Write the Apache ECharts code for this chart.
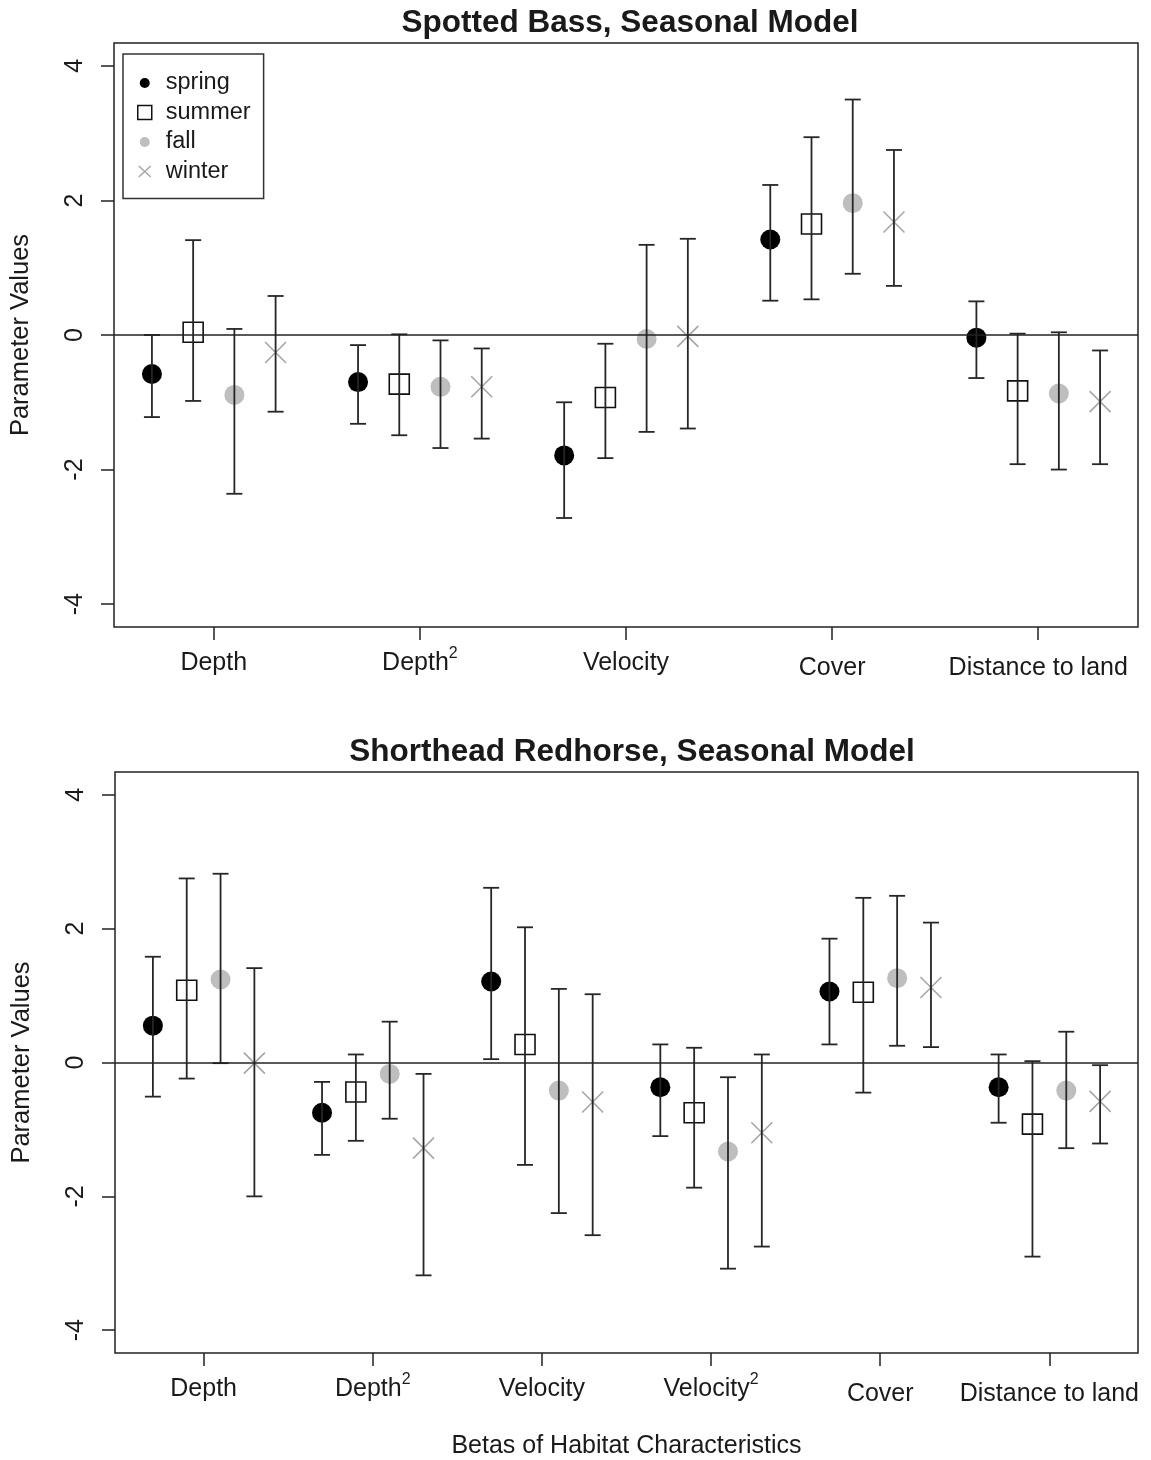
<!DOCTYPE html>
<html>
<head>
<meta charset="utf-8">
<title>Seasonal habitat models</title>
<script src="https://cdn.jsdelivr.net/npm/echarts@6/dist/echarts.min.js"></script>
<style>
  html, body { margin: 0; padding: 0; background: #fff; }
  #chart { width: 1151px; height: 1460px; }
</style>
</head>
<body>
<div id="chart"></div>
<script>
// Seasons, drawn side by side within each habitat characteristic
const seasons = ['spring', 'summer', 'fall', 'winter'];
const seasonOffsets = [-0.3, -0.1, 0.1, 0.3];

// Spotted Bass: covariate names ("^2" marks a superscript)
const bassCats = ['Depth', 'Depth^2', 'Velocity', 'Cover', 'Distance to land'];
// rows: spring, summer, fall, winter
const bassEst = [
  [-0.58, -0.70, -1.79, 1.42, -0.04],
  [ 0.04, -0.73, -0.93, 1.65, -0.83],
  [-0.89, -0.77, -0.06, 1.96, -0.87],
  [-0.26, -0.77, -0.02, 1.68, -0.99]
];
const bassLo = [
  [-1.22, -1.32, -2.72, 0.51, -0.64],
  [-0.98, -1.49, -1.83, 0.53, -1.92],
  [-2.36, -1.68, -1.44, 0.91, -2.00],
  [-1.14, -1.54, -1.39, 0.73, -1.92]
];
const bassHi = [
  [ 0.00, -0.15, -1.00, 2.23,  0.50],
  [ 1.41,  0.01, -0.13, 2.94,  0.02],
  [ 0.09, -0.08,  1.34, 3.50,  0.04],
  [ 0.58, -0.20,  1.43, 2.75, -0.23]
];

// Shorthead Redhorse
const redCats = ['Depth', 'Depth^2', 'Velocity', 'Velocity^2', 'Cover', 'Distance to land'];
const redEst = [
  [ 0.55, -0.75,  1.21, -0.37, 1.06, -0.37],
  [ 1.08, -0.44,  0.27, -0.75, 1.05, -0.92],
  [ 1.24, -0.17, -0.42, -1.33, 1.26, -0.42],
  [-0.01, -1.28, -0.59, -1.05, 1.12, -0.58]
];
const redLo = [
  [-0.51, -1.38,  0.05, -1.10,  0.27, -0.90],
  [-0.24, -1.17, -1.53, -1.87, -0.45, -2.90],
  [-0.01, -0.84, -2.25, -3.08,  0.25, -1.28],
  [-2.00, -3.18, -2.58, -2.75,  0.23, -1.21]
];
const redHi = [
  [ 1.58, -0.29,  2.61,  0.27, 1.85,  0.12],
  [ 2.75,  0.12,  2.02,  0.22, 2.46,  0.02],
  [ 2.82,  0.61,  1.10, -0.22, 2.49,  0.46],
  [ 1.41, -0.17,  1.02,  0.12, 2.09, -0.04]
];

const yTicks = [-4, -2, 0, 2, 4];
const titles = ['Spotted Bass, Seasonal Model', 'Shorthead Redhorse, Seasonal Model'];
const yName = 'Parameter Values';
const xName = 'Betas of Habitat Characteristics';

const FONT = '"Liberation Sans", Arial, Helvetica, sans-serif';
const INK = '#1a1a1a';
const BAR = '#262626';

// marker styles per season
const markerStyles = [
  { symbol: 'circle', symbolSize: 20, itemStyle: { color: '#000', opacity: 1 } },
  { symbol: 'rect', symbolSize: 20, itemStyle: { color: 'rgba(0,0,0,0)', borderColor: '#111', borderWidth: 1.6, opacity: 1 } },
  { symbol: 'circle', symbolSize: 20, itemStyle: { color: '#bebebe', opacity: 1 } },
  { symbol: 'path://M0 0L10 10M10 0L0 10', symbolSize: 21,
    itemStyle: { color: 'rgba(0,0,0,0)', borderColor: '#a6a6a6', borderWidth: 1.6, opacity: 1 } }
];

// vertical interval with end caps
function renderInterval(params, api) {
  const x = api.value(0);
  const top = api.coord([x, api.value(3)]);
  const bot = api.coord([x, api.value(2)]);
  const cap = 8;
  const style = { stroke: BAR, lineWidth: 1.8, fill: null };
  return {
    type: 'group',
    children: [
      { type: 'line', shape: { x1: top[0], y1: top[1], x2: bot[0], y2: bot[1] }, style: style },
      { type: 'line', shape: { x1: top[0] - cap, y1: top[1], x2: top[0] + cap, y2: top[1] }, style: style },
      { type: 'line', shape: { x1: bot[0] - cap, y1: bot[1], x2: bot[0] + cap, y2: bot[1] }, style: style }
    ]
  };
}

function panelSeries(axisIdx, est, lo, hi) {
  const out = [];
  seasons.forEach(function (season, s) {
    const rows = est[s].map(function (v, i) {
      return [i + 1 + seasonOffsets[s], v, lo[s][i], hi[s][i]];
    });
    const marker = {
      name: season,
      type: 'scatter',
      xAxisIndex: axisIdx,
      yAxisIndex: axisIdx,
      data: rows.map(function (r) { return [r[0], r[1]]; }),
      symbol: markerStyles[s].symbol,
      symbolSize: markerStyles[s].symbolSize,
      itemStyle: markerStyles[s].itemStyle,
      silent: true,
      z: 2
    };
    if (s === 0) {
      marker.markLine = {
        silent: true,
        symbol: ['none', 'none'],
        label: { show: false },
        lineStyle: { color: '#222', width: 1.5, type: 'solid', opacity: 1 },
        data: [{ yAxis: 0 }],
        z: 4
      };
    }
    out.push(marker);
    out.push({
      name: season + ' interval',
      type: 'custom',
      xAxisIndex: axisIdx,
      yAxisIndex: axisIdx,
      data: rows,
      encode: { x: 0, y: [1, 2, 3] },
      renderItem: renderInterval,
      silent: true,
      z: 3
    });
  });
  return out;
}

// names without descenders sit a little lower, as in plotmath labels
function hasDescender(str) { return /[gjpqy]/.test(str); }
function categoryLabel(cats) {
  return function (value) {
    const name = cats[Math.round(value) - 1];
    if (name === undefined) return '';
    const parts = name.split('^');
    const base = parts[1] ? 'a' : (hasDescender(parts[0]) ? 'a' : 'b');
    let txt = '{' + base + '|' + parts[0] + '}';
    if (parts[1]) txt += '{s|' + parts[1] + '}';
    return txt;
  };
}
const labelRich = {
  a: { fontFamily: FONT, fontSize: 25, color: INK, lineHeight: 34 },
  b: { fontFamily: FONT, fontSize: 25, color: INK, lineHeight: 44 },
  s: { fontFamily: FONT, fontSize: 16, color: INK, lineHeight: 10, verticalAlign: 'top' }
};

function xAxisFor(gridIdx, cats, extra) {
  const ticks = cats.map(function (c, i) { return i + 1; });
  const n = cats.length;
  const pad = 0.04 * (n - 1 + 0.6);
  return Object.assign({
    type: 'value',
    gridIndex: gridIdx,
    position: 'bottom',
    min: 0.7 - pad,
    max: n + 0.3 + pad,
    splitLine: { show: false },
    axisLine: { show: false, onZero: false },
    axisTick: { show: true, customValues: ticks, length: 13, inside: false,
      lineStyle: { color: '#222', width: 1.5 } },
    axisLabel: { show: true, customValues: ticks, margin: 19,
      formatter: categoryLabel(cats), rich: labelRich }
  }, extra || {});
}

function yAxisFor(gridIdx) {
  return {
    type: 'value',
    gridIndex: gridIdx,
    min: -4.34,
    max: 4.34,
    splitLine: { show: false },
    axisLine: { show: false, onZero: false },
    axisTick: { show: true, customValues: yTicks, length: 13,
      lineStyle: { color: '#222', width: 1.5 } },
    axisLabel: { show: true, customValues: yTicks, rotate: 90, margin: 26,
      fontFamily: FONT, fontSize: 25, color: INK },
    name: yName,
    nameLocation: 'middle',
    nameGap: 80,
    nameTextStyle: { fontFamily: FONT, fontSize: 25.5, color: INK }
  };
}

// legend icons
const dotIcon = 'path://M0 0M14 14M7 2A5 5 0 1 1 7 12A5 5 0 1 1 7 2Z';
const crossIcon = 'path://M0 0M14 14M1 1.5L13 12.5M13 1.5L1 12.5';

const option = {
  backgroundColor: '#fff',
  animation: false,
  title: [
    { text: titles[0], left: 625, top: 2, textAlign: 'center',
      textStyle: { fontFamily: FONT, fontSize: 31.5, fontWeight: 'bold', color: INK } },
    { text: titles[1], left: 627, top: 731, textAlign: 'center',
      textStyle: { fontFamily: FONT, fontSize: 31.5, fontWeight: 'bold', color: INK } }
  ],
  legend: {
    orient: 'vertical',
    left: 123,
    top: 54,
    padding: [17, 13, 15, 14],
    itemWidth: 14,
    itemHeight: 14,
    itemGap: 5.5,
    borderColor: '#333',
    borderWidth: 1.5,
    backgroundColor: '#fff',
    selectedMode: false,
    textStyle: { fontFamily: FONT, fontSize: 23.5, color: INK, padding: [0, 0, 0, 9] },
    data: [
      { name: 'spring', icon: dotIcon, itemStyle: { color: '#000', borderWidth: 0, opacity: 1 } },
      { name: 'summer', icon: 'rect', itemStyle: { color: 'rgba(0,0,0,0)', borderColor: '#111', borderWidth: 1.5, opacity: 1 } },
      { name: 'fall', icon: dotIcon, itemStyle: { color: '#bebebe', borderWidth: 0, opacity: 1 } },
      { name: 'winter', icon: crossIcon, itemStyle: { color: 'rgba(0,0,0,0)', borderColor: '#a6a6a6', borderWidth: 1.5, opacity: 1 } }
    ]
  },
  grid: [
    { left: 113, top: 43, width: 1025, height: 584, show: true,
      borderColor: '#222', borderWidth: 1.5, backgroundColor: 'transparent' },
    { left: 115, top: 772, width: 1023, height: 582, show: true,
      borderColor: '#222', borderWidth: 1.5, backgroundColor: 'transparent' }
  ],
  xAxis: [
    xAxisFor(0, bassCats),
    xAxisFor(1, redCats, {
      name: xName,
      nameLocation: 'middle',
      nameGap: 81,
      nameTextStyle: { fontFamily: FONT, fontSize: 25, color: INK }
    })
  ],
  yAxis: [yAxisFor(0), yAxisFor(1)],
  series: panelSeries(0, bassEst, bassLo, bassHi).concat(panelSeries(1, redEst, redLo, redHi))
};

const chart = echarts.init(document.getElementById('chart'), null, { renderer: 'canvas' });
chart.setOption(option);
</script>
</body>
</html>
